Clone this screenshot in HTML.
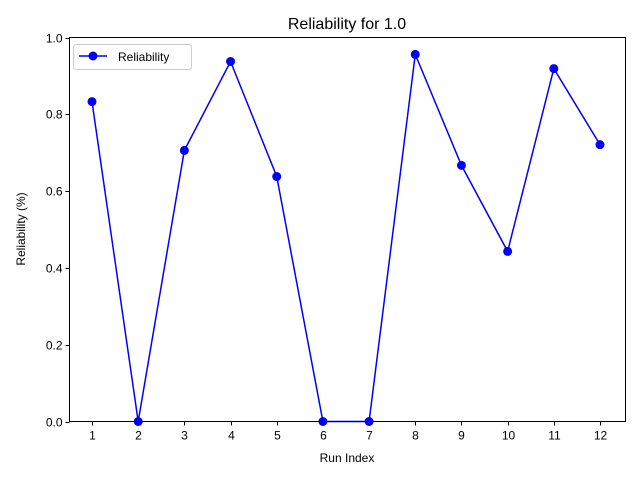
<!DOCTYPE html>
<html><head><meta charset="utf-8"><style>
html,body{margin:0;padding:0;background:#fff;}
svg{display:block;font-family:"Liberation Sans","DejaVu Sans",sans-serif;}
</style></head><body>
<svg id="chart" width="640" height="480">
<rect width="640" height="480" fill="#fff"/>
<text x="347" y="29" font-size="16" text-anchor="middle">Reliability for 1.0</text>
<g id="plot"></g>
<rect x="69.5" y="37.5" width="556" height="384" fill="none" stroke="#000" stroke-width="1"/>
<text x="347" y="462" font-size="12" text-anchor="middle">Run Index</text>
<text transform="translate(25,229) rotate(-90)" font-size="12" text-anchor="middle">Reliability (%)</text>
<g>
<rect x="73.5" y="44.5" width="118" height="25" rx="3" fill="#fff" stroke="#ccc"/>
<line x1="79" y1="56" x2="107" y2="56" stroke="#0000ff" stroke-width="1.5"/>
<circle cx="93" cy="56" r="4.5" fill="#0000ff"/>
<text x="118" y="61" font-size="12">Reliability</text>
</g>
</svg>
<script>
const categories = [1,2,3,4,5,6,7,8,9,10,11,12];
const reliability = [0.833,0,0.706,0.9375,0.638,0,0,0.956,0.667,0.443,0.919,0.721];
const yTicks = [0.0,0.2,0.4,0.6,0.8,1.0];
const yTickLabels = ["0.0","0.2","0.4","0.6","0.8","1.0"];

const NS="http://www.w3.org/2000/svg";
const g=document.getElementById('plot');
const L=69.5,R=625.5,T=37.5,B=421.5;
const xS=v=>92+(v-1)*(600-92)/11;
const yS=v=>B-(v-0)*(B-T)/1.0;
function el(t,a){const e=document.createElementNS(NS,t);for(const k in a)e.setAttribute(k,a[k]);g.appendChild(e);return e;}
categories.forEach(c=>{
  const x=Math.round(xS(c))+0.5;
  const t=el('line',{x1:x,y1:B,x2:x,y2:B+4,stroke:'#000'});
  
  
  const tx=el('text',{x:x,y:B+18,'font-size':12,'text-anchor':'middle'});
  tx.textContent=c;
  
  
});
yTicks.forEach((v,i)=>{
  const y=Math.round(yS(v))+0.5;
  const t=el('line',{x1:L-4,y1:y,x2:L,y2:y,stroke:'#000'});
  
  
  const tx=el('text',{x:L-7,y:y+4,'font-size':12,'text-anchor':'end'});
  tx.textContent=yTickLabels[i];
  
  
});
const pts=categories.map((c,i)=>xS(c)+','+yS(reliability[i])).join(' ');
const line=el('polyline',{points:pts,fill:'none',stroke:'#0000ff','stroke-width':1.5});


categories.forEach((c,i)=>{
  const p=el('circle',{cx:xS(c),cy:yS(reliability[i]),r:4.5,fill:'#0000ff'});
  
  
});
</script>
</body></html>
